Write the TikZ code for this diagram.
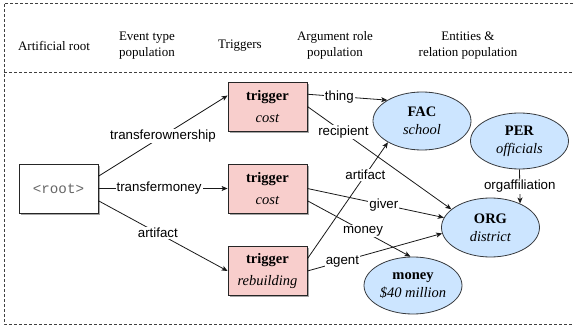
\documentclass[tikz,border=0pt]{standalone}
\usepackage{fontspec}
\setmainfont{Liberation Serif}
\setsansfont{Liberation Sans}
\setmonofont{Liberation Mono}
\usetikzlibrary{arrows.meta,shapes.geometric,shadows}
\definecolor{trigfill}{HTML}{F8CECC}
\definecolor{entfill}{HTML}{CCE5FF}
\definecolor{entdraw}{HTML}{36393D}
\begin{document}
\begin{tikzpicture}[x=1pt,y=-1pt,
  hdr/.style={font=\fontsize{13}{15.6}\selectfont, align=center, inner sep=0},
  boxshadow/.style={drop shadow={shadow xshift=2pt,shadow yshift=-2pt,fill=black,opacity=0.35}},
  rootbox/.style={draw=black!85, fill=white, line width=0.8pt, minimum width=79pt, minimum height=49pt, inner sep=0,
    font=\ttfamily\fontsize{14.2}{16}\selectfont, text=black!60, boxshadow},
  trig/.style={draw=black!85, fill=trigfill, line width=0.8pt, minimum width=79pt, minimum height=49pt, inner sep=0,
    align=center, font=\fontsize{14.5}{22}\selectfont, boxshadow},
  ent/.style={ellipse, draw=entdraw, fill=entfill, line width=0.8pt, minimum width=98pt, minimum height=58pt, inner sep=0,
    align=center, font=\fontsize{14.5}{18}\selectfont},
  arr/.style={-{Stealth[length=6pt,width=5pt,inset=1.5pt]}, line width=0.8pt, draw=black!90},
  lbl/.style={font=\sffamily\fontsize{13.3}{16}\selectfont, fill=white, inner sep=1pt},
  frame/.style={dash pattern=on 3pt off 2pt, line width=0.7pt, draw=black!75},
]
\useasboundingbox (0,0) rectangle (574,326);
\draw[frame] (578,3) -- (4,3) -- (4,324) -- (578,324);
\draw[frame] (4,72) -- (578,72);

\node[hdr] (h1) at (54,46) {Artificial root};
\node[hdr] (h2) at (147,45.5) {Event type\\population};
\node[hdr] (h3) at (240,46) {Triggers};
\node[hdr] (h4) at (335,45.5) {Argument role\\population};
\node[hdr] (h5) at (468,45.5) {Entities \&\\relation population};

\node[rootbox] (root) at (58.5,188.5) {<root>};
\node[trig] (t1) at (267.5,106.5) {\textbf{trigger}\\\textit{cost}};
\node[trig] (t2) at (267.5,188.5) {\textbf{trigger}\\\textit{cost}};
\node[trig] (t3) at (267.5,271) {\textbf{trigger}\\\textit{rebuilding}};

\node[ent] (fac) at (422,121) {\textbf{FAC}\\\textit{school}};
\node[ent,minimum height=56pt] (per) at (519.5,141) {\textbf{PER}\\\textit{officials}};
\node[ent,minimum height=59pt] (org) at (490.5,227.5) {\textbf{ORG}\\\textit{district}};
\node[ent,minimum height=57pt] (money) at (413,285.5) {\textbf{money}\\\textit{\$40 million}};

\draw[arr] ([yshift=12.25pt]root.east) -- node[lbl]{transferownership} ([yshift=11pt]t1.west);
\draw[arr] (root.east) -- node[lbl,pos=0.47]{transfermoney} (t2.west);
\draw[arr] ([yshift=-12.25pt]root.east) -- node[lbl,pos=0.46]{artifact} (t3.west);
\draw[arr] ([yshift=12.25pt]t1.east) -- node[lbl,pos=0.4]{thing} (fac.149);
\draw[arr] (t1.east) -- node[lbl,pos=0.25]{recipient} (org.155);
\draw[arr] (t2.east) -- node[lbl,pos=0.56]{giver} (org.168);
\draw[arr] ([yshift=-12.25pt]t2.east) -- node[lbl,pos=0.54]{money} (money.95);
\draw[arr] ([yshift=12.25pt]t3.east) -- node[lbl,pos=0.72]{artifact} (fac.212);
\draw[arr] (t3.east) -- node[lbl,pos=0.26]{agent} (org.187);
\draw[arr] (per.south) -- node[lbl]{orgaffiliation} (org.39);
\end{tikzpicture}
\end{document}
